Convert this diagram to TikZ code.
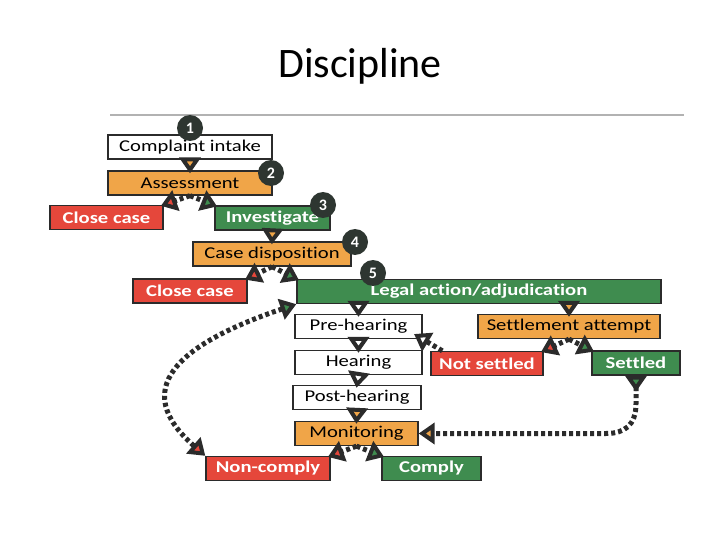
\documentclass[tikz,border=0pt]{standalone}
\usepackage{fontspec}
\setmainfont{Carlito}
\newfontfamily\boxfont{Carlito}[FakeStretch=1.25, Ligatures=NoCommon]
\usepackage{xcolor}
\usetikzlibrary{arrows.meta,calc}
\definecolor{cOrange}{HTML}{F0A548}
\definecolor{cRed}{HTML}{E5473B}
\definecolor{cGreen}{HTML}{3F8C4F}
\definecolor{cDark}{HTML}{2B2B2B}
\definecolor{cNum}{HTML}{2E3631}
\tikzstyle{tsBox} = [
    rectangle,
    draw=cDark,
    line width=1.3pt,
    minimum height=24pt,
    inner sep=0pt,
    text=black,
    font=\boxfont\fontsize{16.5}{18}\selectfont]
\tikzstyle{tsWhite} = [tsBox, fill=white]
\tikzstyle{tsOrange} = [tsBox, fill=cOrange]
\tikzstyle{tsRed} = [
    tsBox,
    fill=cRed,
    text=white,
    font=\boxfont\bfseries\fontsize{16.5}{18}\selectfont]
\tikzstyle{tsGreen} = [
    tsBox,
    fill=cGreen,
    text=white,
    font=\boxfont\bfseries\fontsize{16.5}{18}\selectfont]
\tikzstyle{tsNum} = [
    circle,
    fill=cNum,
    text=white,
    minimum size=26pt,
    inner sep=0pt,
    font=\bfseries\fontsize{16}{16}\selectfont]
\tikzstyle{tsFlow} = [
    draw=cDark,
    line width=5pt,
    dash pattern=on 4pt off 3pt]
\tikzset{
    tsTo/.style={tsFlow, -{Triangle[width=21pt, length=16pt, line width=4pt, fill=#1]}}
}

\begin{document}
\begin{tikzpicture}[x=1pt, y=-1pt]
        \useasboundingbox (0,0) rectangle (720,540);

        % title
        \node[font=\fontsize{42}{50}\selectfont, anchor=base] (title) at (360,78) {Discipline};
        \draw[gray!60, line width=1.2pt] (110,115) -- (684,115);

        % steps
        \node[tsWhite, minimum width=164pt] (intake) at (190,147) {Complaint intake};
        \node[tsOrange, minimum width=164pt] (assess) at (190,183) {Assessment};
        \node[tsRed, minimum width=113pt] (close1) at (106.5,217.5) {Close case};
        \node[tsGreen, minimum width=115pt] (invest) at (272.5,218) {Investigate};
        \node[tsOrange, minimum width=158pt] (dispo) at (272,254) {Case disposition};
        \node[tsRed, minimum width=114pt] (close2) at (190,291) {Close case};
        \node[tsGreen, minimum width=364pt] (legal) at (479,291.5) {Legal action/adjudication};
        \node[tsWhite, minimum width=127pt] (pre) at (358.5,326.5) {Pre-hearing};
        \node[tsOrange, minimum width=182pt] (settle) at (569,326.5) {Settlement attempt};
        \node[tsWhite, minimum width=127pt] (hear) at (358.5,362.5) {Hearing};
        \node[tsRed, minimum width=112pt] (notset) at (487,363.5) {Not settled};
        \node[tsGreen, minimum width=88pt] (settled) at (636,363) {Settled};
        \node[tsWhite, minimum width=128pt] (post) at (357,397.5) {Post-hearing};
        \node[tsOrange, minimum width=123pt] (monit) at (356.5,433.5) {Monitoring};
        \node[tsRed, minimum width=124pt] (noncomp) at (268,468.5) {Non-comply};
        \node[tsGreen, minimum width=99pt] (comply) at (431.5,468.5) {Comply};

        % flow
        \draw[tsTo=cOrange, shorten >=-3pt] (intake.south) -- (assess.north);
        \draw[tsTo=cRed, shorten >=-3pt] (assess.south) -- (close1.north east);
        \draw[tsTo=cGreen, shorten >=-3pt] (assess.south) -- (invest.north west);
        \draw[tsTo=cOrange, shorten >=-3pt] (invest.south) -- (dispo.north);
        \draw[tsTo=cRed, shorten >=-3pt] (dispo.south) -- (close2.north east);
        \draw[tsTo=cGreen, shorten >=-3pt] (dispo.south) -- (legal.north west);
        \draw[tsTo=white, shorten >=-3pt] (pre.north |- legal.south) -- (pre.north);
        \draw[tsTo=cOrange, shorten >=-3pt] (settle.north |- legal.south) -- (settle.north);
        \draw[tsTo=white, shorten >=-3pt] (pre.south) -- (hear.north);
        \draw[tsTo=white, shorten >=-3pt] (hear.south) -- (post.north);
        \draw[tsTo=cOrange, shorten >=-3pt] (post.south) -- (monit.north);
        \draw[tsTo=cRed, shorten >=-3pt] (settle.south) -- (notset.north east);
        \draw[tsTo=cGreen, shorten >=-3pt] (settle.south) -- (settled.north west);
        \draw[tsTo=white, shorten >=-10pt] ($(notset.north west)+(12,0)$) -- (pre.south east);
        \draw[tsTo=cRed, shorten >=-3pt] (monit.south) -- (noncomp.north east);
        \draw[tsTo=cGreen, shorten >=-3pt] (monit.south) -- (comply.north west);

        % loops back
        \draw[tsFlow, {Triangle[width=21pt, length=16pt, line width=4pt, fill=cRed]}-{Triangle[width=21pt, length=16pt, line width=4pt, fill=cGreen]}]
            (noncomp.north west) .. controls (130,390) and (175,345) .. (legal.south west);
        \draw[tsFlow, {Triangle[reversed, width=21pt, length=16pt, line width=4pt, fill=cGreen]}-{Triangle[width=21pt, length=16pt, line width=4pt, fill=cOrange]}]
            (settled.south) -- ++(0,28) .. controls +(0,22) and +(18,0) .. ($(monit.east -| settled.south)+(-30,0)$) -- (monit.east);

        % step numbers
        \node[tsNum] (n1) at (190,128) {1};
        \node[tsNum] (n2) at (271,173) {2};
        \node[tsNum] (n3) at (323,205) {3};
        \node[tsNum] (n4) at (355,242) {4};
        \node[tsNum] (n5) at (373,273) {5};

\end{tikzpicture}
\end{document}
